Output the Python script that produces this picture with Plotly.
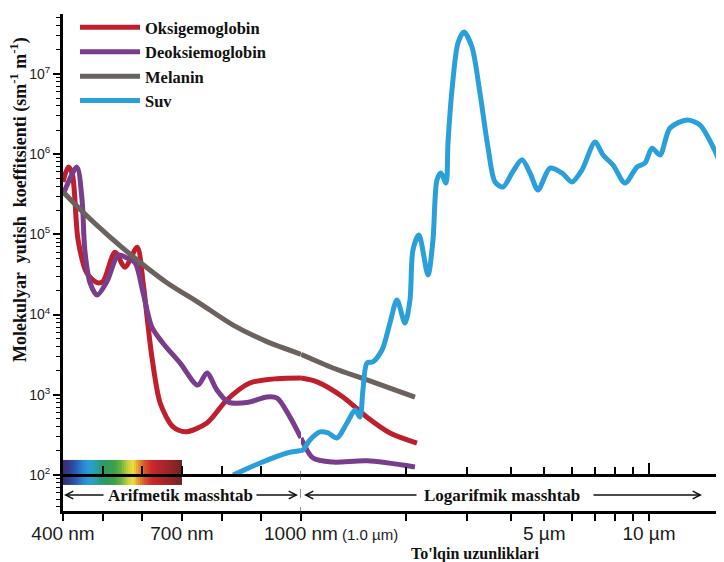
import plotly.graph_objects as go

# ---------------- data (wavelength in nm, molar absorption coefficient) ----------------
oxy_nm = [400, 413, 423, 438, 460, 486, 501, 531, 556, 587, 602, 612, 624, 645, 677, 708,
          763, 813, 871, 940, 1000, 1112, 1320, 1548, 1802, 2154]
oxy_val = [4.5e5, 6.9e5, 5.8e5, 8.5e4, 3.3e4, 2.5e4, 2.6e4, 6.0e4, 3.9e4, 6.9e4, 2.5e4, 9.3e3,
           3.0e3, 790, 400, 345, 445, 860, 1400, 1590, 1620, 1450, 940, 525, 334, 250]

deoxy_nm = [400, 435, 448, 455, 468, 486, 511, 539, 561, 582, 602, 624, 652, 695, 740, 763,
            788, 816, 864, 914, 940, 972, 1000, 1083, 1236, 1548, 2126]
deoxy_val = [3.1e5, 6.9e5, 2.7e5, 6.4e4, 2.5e4, 1.75e4, 2.6e4, 5.5e4, 5.1e4, 4.4e4, 1.86e4,
             7.0e3, 4.4e3, 2.5e3, 1.32e3, 1.87e3, 1.15e3, 815, 800, 940, 910, 530, 290, 163,
             145, 150, 126]

melanin_nm = [400, 450, 518, 587, 662, 745, 829, 914, 1000, 1236, 1548, 2126]
melanin_val = [3.4e5, 1.9e5, 9.3e4, 4.8e4, 2.5e4, 1.38e4, 7.4e3, 4.6e3, 3.2e3, 2.16e3, 1.53e3, 935]

water_nm = [829, 897, 965, 1000, 1013, 1061, 1134, 1196, 1269, 1356, 1430, 1477, 1507, 1548,
            1610, 1710, 1802, 1887, 1990, 2057, 2098, 2183, 2317, 2395, 2459, 2525, 2610,
            2645, 2716, 2826, 2941, 3100, 3268, 3445, 3611, 3806, 4041, 4316, 4550, 4797,
            5194, 5623, 6007, 6419, 6998, 7376, 7882, 8532, 9238, 9739, 10200, 10755, 11489,
            12862, 14018, 15275, 16318]
water_val = [100, 141, 188, 202, 205, 273, 344, 334, 289, 445, 646, 528, 1150, 2495,
             2566, 3620, 7860, 15200, 7860, 15200, 6.4e4, 9.8e4, 3.12e4, 8.5e4, 4.77e5, 5.83e5,
             4.38e5, 1.38e6, 6.3e6, 2.44e7, 3.34e7, 2.17e7, 5.8e6, 1.23e6, 4.5e5, 3.9e5,
             5.83e5, 8.5e5, 5.83e5, 3.58e5, 6.7e5, 5.83e5, 4.5e5, 6.35e5, 1.42e6, 9.78e5,
             7.33e5, 4.38e5, 6.92e5, 7.76e5, 1.19e6, 9.78e5, 2.12e6, 2.67e6, 2.31e6, 1.23e6,
             6.35e5]

series_names = ["Oksigemoglobin", "Deoksiemoglobin", "Melanin", "Suv"]
series_colors = ["#bf1f2c", "#7a3d8c", "#6c625d", "#2a9fd9"]

# visible spectrum strip
spectrum_nm = [400, 415, 430, 450, 465, 480, 495, 510, 530, 550, 565, 578, 590, 605, 625,
               650, 680, 700]
spectrum_colors = ["#3a2e6a", "#2f3a8e", "#2b55b0", "#2a86d0", "#2a9ed8", "#2aa0b0",
                   "#2a9a78", "#2f9a5a", "#3fa24a", "#7ab640", "#c8d040", "#eedd3c",
                   "#e89a30", "#d85a2c", "#c8282c", "#b02429", "#8a2426", "#6a2424"]

# axis ticks
y_tickvals = [1e2, 1e3, 1e4, 1e5, 1e6, 1e7]
y_ticktext = ["10<sup>2</sup>", "10<sup>3</sup>", "10<sup>4</sup>", "10<sup>5</sup>",
              "10<sup>6</sup>", "10<sup>7</sup>"]
lin_label_vals = [400, 700, 1000]
lin_label_text = ["400 nm", "700 nm", "1000 nm"]
lin_minor_vals = [500, 600, 800, 900]
log_label_vals = [5000, 10000]
log_label_text = ["5 µm", "10 µm"]
log_minor_vals = [2000, 3000, 4000, 6000, 7000, 8000, 9000, 16000]
base_lin_vals = [400, 500, 600, 700, 800, 900, 1000]
base_log_major = [1000, 10000]
base_log_minor = [2000, 3000, 4000, 5000, 6000, 7000, 8000, 9000, 16000]

# ---------------- layout geometry ----------------
# the page body has an 8px margin, so the figure is 8px smaller than the window
FIG_W, FIG_H = 716, 554
M_L, M_T, M_R, M_B = 55, 6, 0, 51
PLOT_W = FIG_W - M_L - M_R          # 661
PLOT_H = FIG_H - M_T - M_B          # 497
X0_PX, Y0_PX = 8 + M_L, 8 + M_T     # plot-area origin in window pixels


def px(x):      # window pixel -> paper x
    return (x - X0_PX) / PLOT_W


def py(y):      # window pixel -> paper y
    return (Y0_PX + PLOT_H - y) / PLOT_H


SPLIT = 0.36          # fraction of the plot width used by the arithmetic (linear) part
LOG_MAX = 4.2155      # log10 of right edge wavelength
Y_RANGE = [1.551, 7.748]
BASE_POS = 0.0724     # paper position of the 10^2 line

SERIF = "Liberation Serif, Times New Roman, serif"
SANS = "Liberation Sans, Arial, sans-serif"

fig = go.Figure()

# spectrum strip (drawn first, under everything)
sp_edges = list(range(400, 701, 5))
sp_mid = [[(a + b) / 2 for a, b in zip(sp_edges[:-1], sp_edges[1:])]]
cs = [[(nm - 400) / 300, c] for nm, c in zip(spectrum_nm, spectrum_colors)]
fig.add_trace(go.Heatmap(x=sp_edges, y=[75, 154], z=sp_mid, colorscale=cs, zmin=400, zmax=700,
                         showscale=False, hoverinfo="skip", xaxis="x", yaxis="y"))


def add_series(nm, val, name, color):
    lin_x = [x for x in nm if x <= 1000]
    lin_y = [v for x, v in zip(nm, val) if x <= 1000]
    log_x = [x for x in nm if x >= 1000]
    log_y = [v for x, v in zip(nm, val) if x >= 1000]
    fig.add_trace(go.Scatter(x=lin_x, y=lin_y, mode="lines", name=name, legendgroup=name,
                             line=dict(color=color, width=5, shape="spline", smoothing=0.8),
                             xaxis="x", yaxis="y", showlegend=True))
    fig.add_trace(go.Scatter(x=log_x, y=log_y, mode="lines", name=name, legendgroup=name,
                             line=dict(color=color, width=5, shape="spline", smoothing=0.8),
                             xaxis="x2", yaxis="y", showlegend=False))


add_series(oxy_nm, oxy_val, series_names[0], series_colors[0])
add_series(deoxy_nm, deoxy_val, series_names[1], series_colors[1])
add_series(melanin_nm, melanin_val, series_names[2], series_colors[2])
add_series(water_nm, water_val, series_names[3], series_colors[3])

# placeholders so the 10^2 baseline axes get drawn
fig.add_trace(go.Scatter(x=[None], y=[None], xaxis="x3", yaxis="y", showlegend=False,
                         hoverinfo="skip"))
fig.add_trace(go.Scatter(x=[None], y=[None], xaxis="x4", yaxis="y", showlegend=False,
                         hoverinfo="skip"))

axis_common = dict(showline=True, linecolor="black", linewidth=3, showgrid=False,
                   zeroline=False, tickcolor="black", automargin=False)
xfont = dict(family=SANS, size=19, color="#1a1a1a")

fig.update_layout(
    width=FIG_W, height=FIG_H,
    margin=dict(l=M_L, r=M_R, t=M_T, b=M_B, autoexpand=False),
    paper_bgcolor="white", plot_bgcolor="white",
    xaxis=dict(domain=[0, SPLIT], range=[400, 1000], anchor="y", ticks="outside",
               ticklen=7, tickwidth=1.5, tickmode="array", tickvals=lin_label_vals,
               ticktext=lin_label_text, tickfont=xfont, ticklabelstandoff=-4,
               minor=dict(tickmode="array", tickvals=lin_minor_vals, ticks="outside",
                          ticklen=7, tickwidth=1.5, tickcolor="black", showgrid=False),
               **axis_common),
    xaxis2=dict(domain=[SPLIT, 1], type="log", range=[3, LOG_MAX], anchor="y",
                ticks="outside", ticklen=7, tickwidth=1.5, tickmode="array",
                tickvals=log_label_vals, ticktext=log_label_text, tickfont=xfont,
                ticklabelstandoff=-4,
                minor=dict(tickmode="array", tickvals=log_minor_vals, ticks="outside",
                           ticklen=7, tickwidth=1.5, tickcolor="black", showgrid=False),
                **axis_common),
    xaxis3=dict(domain=[0, SPLIT], range=[400, 1000], anchor="free", position=BASE_POS,
                overlaying="x", ticks="inside", ticklen=8, tickwidth=1.5, tickmode="array",
                tickvals=base_lin_vals, showticklabels=False, **axis_common),
    xaxis4=dict(domain=[SPLIT, 1], type="log", range=[3, LOG_MAX], anchor="free",
                position=BASE_POS, overlaying="x2", ticks="inside", ticklen=11,
                tickwidth=1.5, tickmode="array", tickvals=base_log_major,
                showticklabels=False,
                minor=dict(tickmode="array", tickvals=base_log_minor, ticks="inside",
                           ticklen=7, tickwidth=1.5, tickcolor="black", showgrid=False),
                **axis_common),
    yaxis=dict(type="log", range=Y_RANGE, anchor="x", ticks="outside", ticklen=7,
               tickwidth=1.5, tickmode="array", tickvals=y_tickvals, ticktext=y_ticktext,
               tickfont=dict(family=SANS, size=14, color="#1a1a1a"),
               minor=dict(ticks="outside", ticklen=4, tickwidth=1, tickcolor="black",
                          dtick="D1", showgrid=False),
               **axis_common),
    legend=dict(x=px(75), y=py(10), xanchor="left", yanchor="top", bgcolor="rgba(0,0,0,0)",
                font=dict(family=SERIF, size=16.5, color="#111", weight="bold"),
                tracegroupgap=0, itemwidth=60),
    showlegend=True,
)

# dashed divider at 1000 nm between the scales
fig.add_shape(type="line", xref="x", yref="paper", x0=1000, x1=1000, y0=py(516), y1=py(468),
              line=dict(color="#333", width=1, dash="dash"))

ann_font = dict(family=SERIF, size=17, color="#111", weight="bold")
fig.add_annotation(text="Arifmetik masshtab", xref="paper", yref="paper", x=px(180),
                   y=py(495), xanchor="center", yanchor="middle", showarrow=False,
                   font=ann_font)
fig.add_annotation(text="Logarifmik masshtab", xref="paper", yref="paper", x=px(502),
                   y=py(495), xanchor="center", yanchor="middle", showarrow=False,
                   font=ann_font)

arrow_style = dict(xref="paper", yref="paper", text="", showarrow=True, arrowhead=5,
                   arrowsize=1, arrowwidth=1.5, arrowcolor="#111", axref="pixel",
                   ayref="pixel", ay=0)
fig.add_annotation(x=px(64), y=py(495), ax=41, **arrow_style)
fig.add_annotation(x=px(298), y=py(495), ax=-43, **arrow_style)
fig.add_annotation(x=px(304), y=py(495), ax=114, **arrow_style)
fig.add_annotation(x=px(702), y=py(495), ax=-110, **arrow_style)

fig.add_annotation(text="(1.0 µm)", xref="paper", yref="paper", x=px(370), y=py(534),
                   xanchor="center", yanchor="middle", showarrow=False,
                   font=dict(family=SANS, size=15, color="#1a1a1a"))
fig.add_annotation(text="To'lqin uzunliklari", xref="paper", yref="paper", x=px(475),
                   y=py(554), xanchor="center", yanchor="middle", showarrow=False,
                   font=dict(family=SERIF, size=16, color="#111", weight="bold"))
fig.add_annotation(text="Molekulyar  yutish  koeffitsienti (sm<sup>-1</sup> m<sup>-1</sup>)",
                   xref="paper", yref="paper", x=px(19), y=py(200), xanchor="center",
                   yanchor="middle", textangle=-90, showarrow=False,
                   font=dict(family=SERIF, size=18, color="#111", weight="bold"))

fig.write_html("out.html")
